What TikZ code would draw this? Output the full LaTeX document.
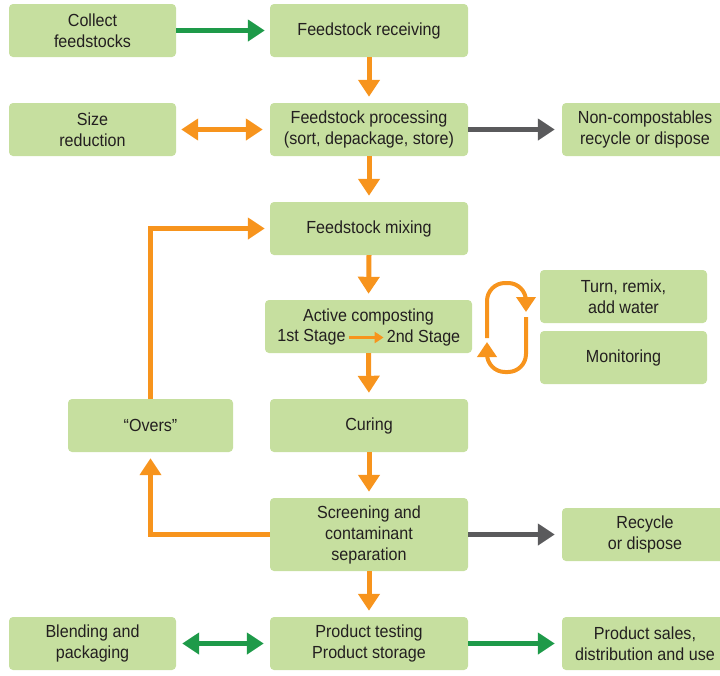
\documentclass[tikz,border=0pt]{standalone}
\usepackage{fontspec}
\setmainfont{Liberation Sans}[FakeStretch=0.92]
\usetikzlibrary{arrows.meta}
\definecolor{boxgreen}{HTML}{C6DF9F}
\definecolor{arrorange}{HTML}{F7941D}
\definecolor{arrgreen}{HTML}{1E9A49}
\definecolor{arrgray}{HTML}{5A5A5C}
\definecolor{txt}{HTML}{231F20}
\begin{document}
\begin{tikzpicture}[x=1pt,y=-1pt,
  box/.style={rectangle, rounded corners=4pt, fill=boxgreen, minimum height=53pt, align=center, text=txt, inner sep=0pt, font=\fontsize{17.5}{21}\selectfont},
  wide/.style={box, minimum width=198pt},
  side/.style={box, minimum width=167pt},
  plain/.style={text=txt, inner sep=0pt, font=\fontsize{17.5}{21}\selectfont},
  bigtip/.style={Triangle[length=17pt,width=21pt]},
  oarr/.style={draw=arrorange, line width=5pt, -{Triangle[length=17pt,width=21pt]}},
  oarr2/.style={draw=arrorange, line width=5pt, {Triangle[length=17pt,width=21pt]}-{Triangle[length=17pt,width=21pt]}},
  garr/.style={draw=arrgreen, line width=5pt, -{Triangle[length=17pt,width=21pt]}},
  garr2/.style={draw=arrgreen, line width=5pt, {Triangle[length=17pt,width=21pt]}-{Triangle[length=17pt,width=21pt]}},
  grarr/.style={draw=arrgray, line width=5pt, -{Triangle[length=17pt,width=21pt]}},
  looparr/.style={draw=arrorange, line width=4pt, rounded corners=18pt, -{Triangle[length=15pt,width=19pt]}}
]
\useasboundingbox (0,0) rectangle (720,675);

% boxes
\node[side] (collect) at (92.5,30.5) {Collect\\feedstocks};
\node[wide] (recv) at (369,30.5) {Feedstock receiving};
\node[side] (size) at (92.5,129.5) {Size\\reduction};
\node[wide] (proc) at (369,129.5) {Feedstock processing\\(sort, depackage, store)};
\node[box, minimum width=166pt] (noncomp) at (645,129.5) {Non-compostables\\recycle or dispose};
\node[wide] (mix) at (369,228.5) {Feedstock mixing};
\node[box, minimum width=207pt] (active) at (368.5,326.5) {};
\node[plain] (actitle) at (368.5,316.5) {Active composting};
\node[plain] (s1) at (311.5,337.5) {1st Stage};
\node[plain] (s2) at (423.5,337.5) {2nd Stage};
\node[box, minimum width=167pt] (turn) at (623.5,296.5) {Turn, remix,\\add water};
\node[box, minimum width=167pt] (monit) at (623.5,357.5) {Monitoring};
\node[box, minimum width=165pt] (overs) at (150.5,425.5) {“Overs”};
\node[wide] (curing) at (369,425.5) {Curing};
\node[box, minimum width=198pt, minimum height=73pt] (screen) at (369,534.5) {Screening and\\contaminant\\separation};
\node[box, minimum width=166pt] (recyc) at (645,534.5) {Recycle\\or dispose};
\node[side] (blend) at (92.5,643.5) {Blending and\\packaging};
\node[wide] (test) at (369,643.5) {Product testing\\Product storage};
\node[box, minimum width=166pt] (sales) at (645,643.5) {Product sales,\\distribution and use};

% connectors
\draw[garr, shorten >=5pt] (collect.east) -- (recv.west);
\draw[oarr, shorten >=6pt] (recv.south) -- (proc.north);
\draw[oarr2, shorten >=7pt, shorten <=5pt] (size.east) -- (proc.west);
\draw[grarr, shorten >=7pt] (proc.east) -- (noncomp.west);
\draw[oarr, shorten >=6pt] (proc.south) -- (mix.north);
\draw[oarr, shorten >=6pt] (mix.south) -- (active.north);
\draw[draw=arrorange, line width=2.5pt, -{Triangle[length=9pt,width=11pt]}, shorten <=3pt, shorten >=3pt] (s1.east) -- (s2.west);
\draw[oarr, shorten >=6pt] (active.south) -- (curing.north);
\draw[oarr, shorten >=6pt] (curing.south) -- (screen.north);
\draw[oarr, shorten >=6pt] (screen.south) -- (test.north);
\draw[grarr, shorten >=7pt] (screen.east) -- (recyc.west);
\draw[oarr, shorten >=6pt] (screen.west) -| (overs.south);
\draw[oarr, shorten >=5pt] (overs.north) |- (mix.west);
\draw[garr2, shorten >=6pt, shorten <=6pt] (blend.east) -- (test.west);
\draw[garr, shorten >=7pt] (test.east) -- (sales.west);

% loop arrows
\coordinate (la) at (487,338);
\coordinate (lb) at (487,283);
\coordinate (lc) at (526,283);
\coordinate (ld) at (526,312);
\coordinate (ma) at (526,317);
\coordinate (mb) at (526,372);
\coordinate (mc) at (487,372);
\coordinate (md) at (487,342);
\draw[looparr] (la) -- (lb) -- (lc) -- (ld);
\draw[looparr] (ma) -- (mb) -- (mc) -- (md);
\end{tikzpicture}
\end{document}
